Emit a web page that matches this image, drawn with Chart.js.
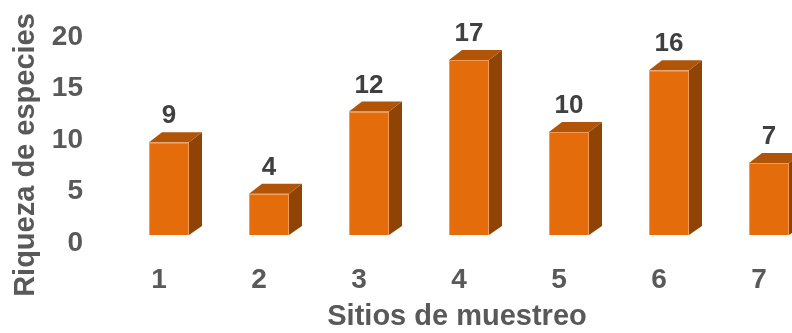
<!DOCTYPE html>
<html>
<head>
<meta charset="utf-8">
<script src="https://cdn.jsdelivr.net/npm/chart.js@4.4.0/dist/chart.umd.min.js"></script>
<style>
  html, body { margin: 0; padding: 0; background: #fff; overflow: hidden; }
  #wrap { width: 792px; height: 333px; overflow: hidden; position: relative; }
  #box { width: 840px; height: 333px; position: absolute; left: 0; top: 0; }
</style>
</head>
<body>
<div id="wrap"><div id="box"><canvas id="myChart"></canvas></div></div>
<script>
const sitios = ["1", "2", "3", "4", "5", "6", "7"];
const riqueza = [9, 4, 12, 17, 10, 16, 7];
const yTicks = [0, 5, 10, 15, 20];
const xTitle = "Sitios de muestreo";
const yTitle = "Riqueza de especies";

const FONT = "'Liberation Sans', Arial, sans-serif";
const GREY = "#595959";
const DX = 13; // depth of the 3d bars, to the right
const DY = 10; // depth, upwards

// draws the top and side faces + value labels on top of every bar,
// and the two axis titles (they are not centred on the plot area)
const bars3d = {
  id: "bars3d",
  afterDatasetsDraw(chart) {
    const ctx = chart.ctx;
    const meta = chart.getDatasetMeta(0);
    ctx.save();
    meta.data.forEach((bar, i) => {
      const l = bar.x - bar.width / 2;
      const r = bar.x + bar.width / 2;
      const top = bar.y;
      const base = bar.base;
      // side
      ctx.fillStyle = "#8f4405";
      ctx.beginPath();
      ctx.moveTo(r, top);
      ctx.lineTo(r + DX, top - DY);
      ctx.lineTo(r + DX, base - DY + 1);
      ctx.lineTo(r, base);
      ctx.closePath();
      ctx.fill();
      // top
      ctx.fillStyle = "#b05508";
      ctx.beginPath();
      ctx.moveTo(l, top);
      ctx.lineTo(r, top);
      ctx.lineTo(r + DX, top - DY);
      ctx.lineTo(l + DX, top - DY);
      ctx.closePath();
      ctx.fill();
      // value label
      ctx.fillStyle = "#404040";
      ctx.font = "bold 26px " + FONT;
      ctx.textAlign = "center";
      ctx.textBaseline = "middle";
      ctx.fillText(String(riqueza[i]), bar.x, top - 26);
    });

    // axis titles
    ctx.fillStyle = GREY;
    ctx.font = "bold 29px " + FONT;
    ctx.textAlign = "center";
    ctx.textBaseline = "middle";
    ctx.fillText(xTitle, 457, 317);
    ctx.translate(26, 155);
    ctx.rotate(-Math.PI / 2);
    ctx.fillText(yTitle, 0, 0);
    ctx.restore();
  },
};

const ctx = document.getElementById("myChart").getContext("2d");
const myChart = new Chart(ctx, {
  type: "bar",
  data: {
    labels: sitios,
    datasets: [
      {
        data: riqueza,
        backgroundColor: "#e46c0a",
        borderColor: "#f39a55",
        borderWidth: 1,
        barPercentage: 0.4,
        categoryPercentage: 1,
      },
    ],
  },
  options: {
    responsive: true,
    maintainAspectRatio: false,
    animation: false,
    events: [],
    layout: { padding: { top: 29, right: 21, left: 0, bottom: 0 } },
    plugins: { legend: { display: false }, tooltip: { enabled: false } },
    scales: {
      x: {
        grid: { display: false, drawTicks: false },
        border: { display: false },
        ticks: {
          color: GREY,
          font: { family: FONT, size: 28, weight: "bold" },
          padding: 28,
          labelOffset: -10,
        },
        afterFit(scale) {
          scale.height = 98;
          scale.paddingLeft = 0;
          scale.paddingRight = 0;
        },
      },
      y: {
        min: 0,
        max: 20,
        grid: { display: false, drawTicks: false },
        border: { display: false },
        afterBuildTicks(scale) {
          scale.ticks = yTicks.map((v) => ({ value: v }));
        },
        ticks: {
          color: GREY,
          font: { family: FONT, size: 28, weight: "bold" },
          padding: 36,
          labelOffset: 8,
        },
        afterFit(scale) {
          scale.width = 119;
          scale.paddingTop = 0;
          scale.paddingBottom = 0;
        },
      },
    },
  },
  plugins: [bars3d],
});
</script>
</body>
</html>
